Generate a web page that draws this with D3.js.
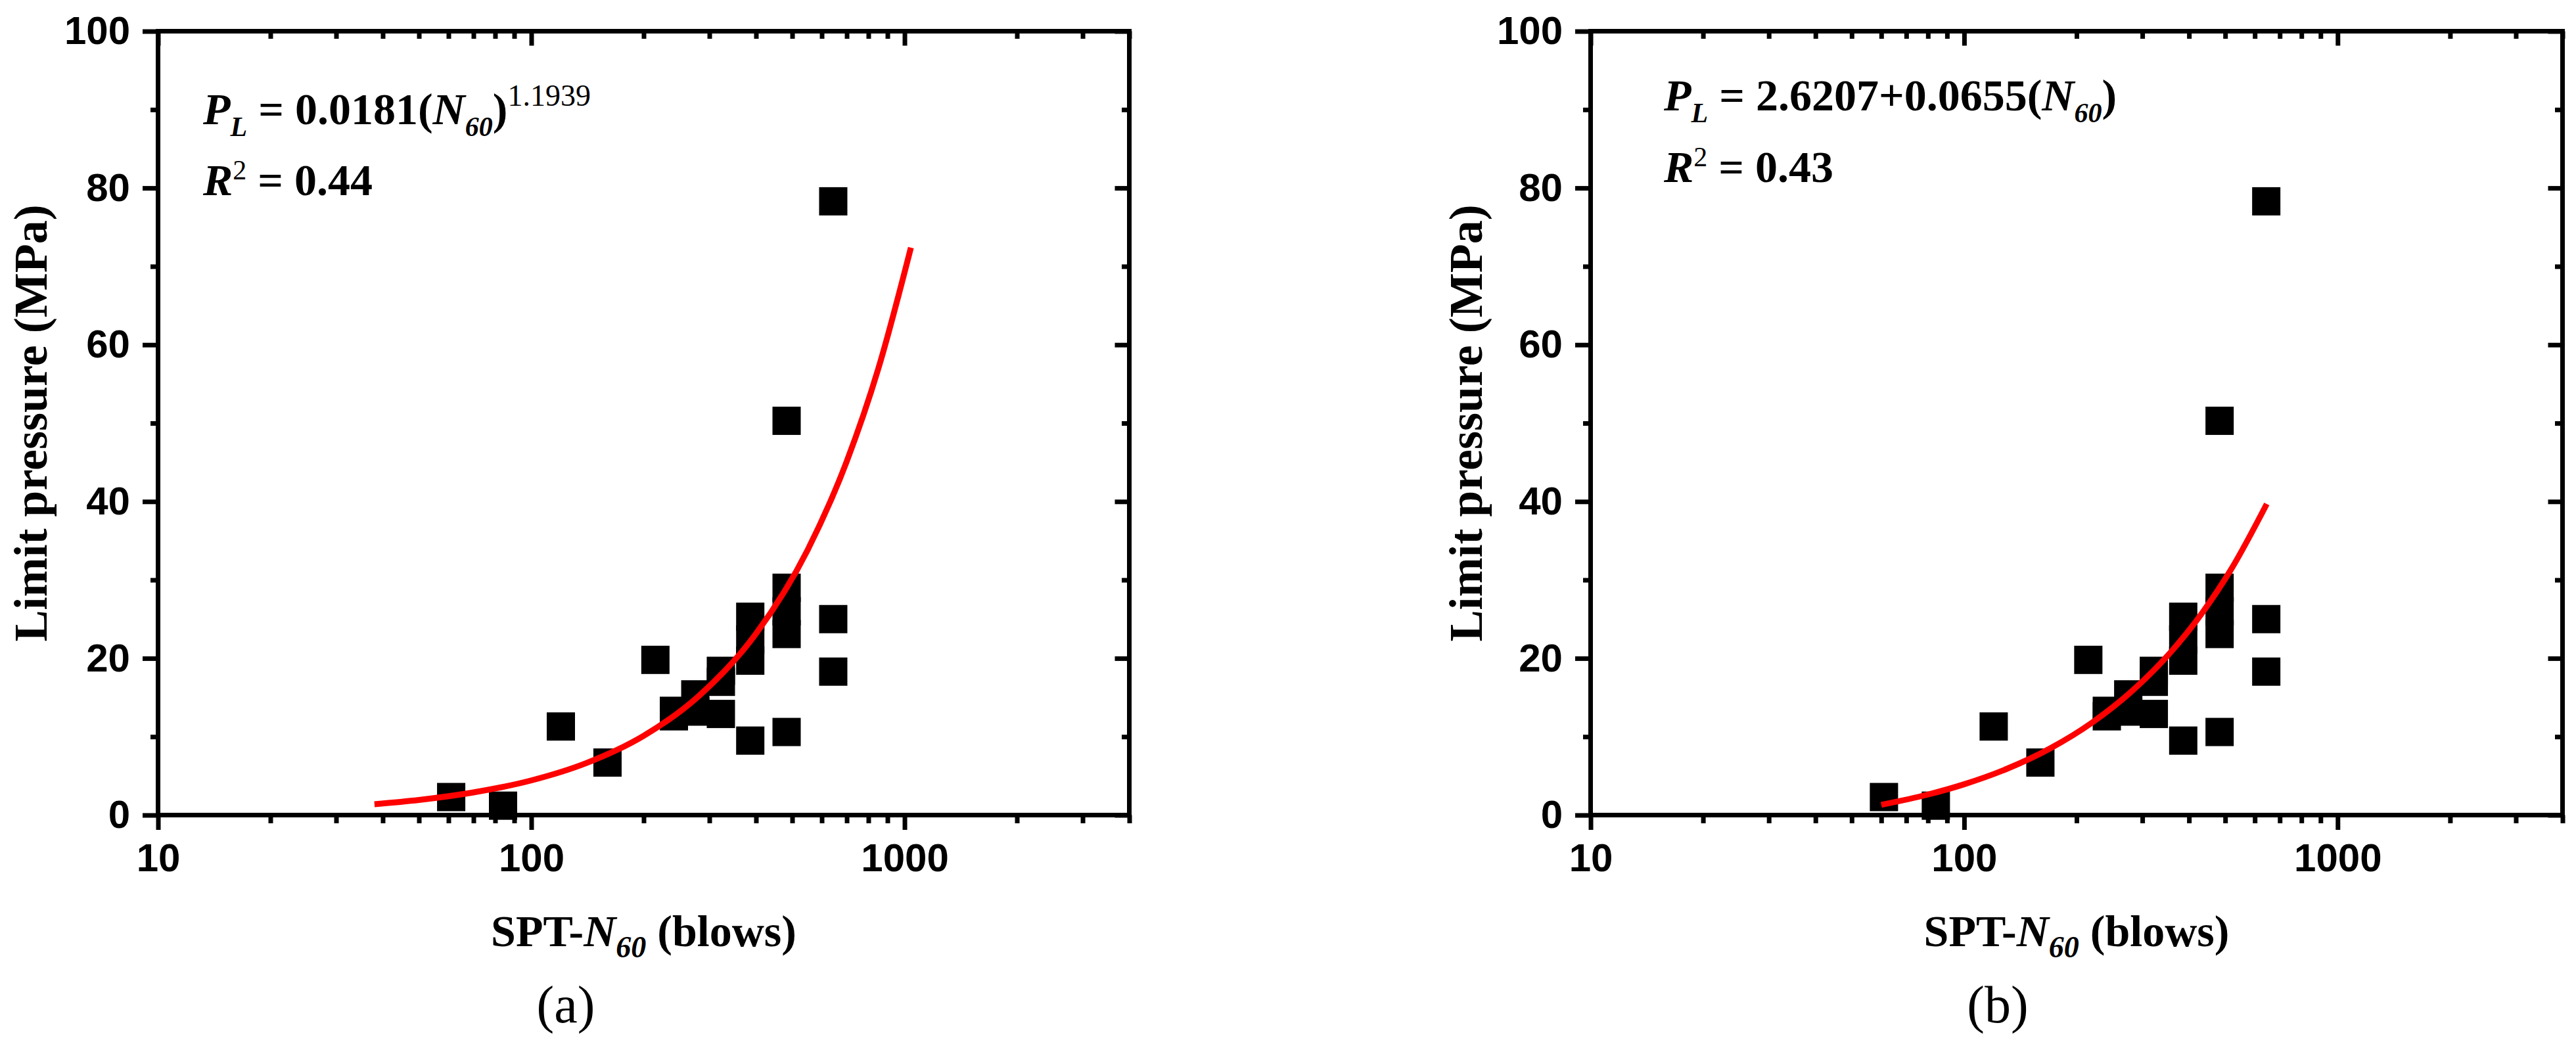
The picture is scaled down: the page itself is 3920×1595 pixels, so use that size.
<!DOCTYPE html>
<html><head><meta charset="utf-8">
<script src="https://cdn.jsdelivr.net/npm/d3@7"></script>
<style>body{margin:0;background:#fff} svg{display:block}</style>
</head><body>
<svg id="chart" width="3920" height="1595"></svg>
<script>
// ---- data ----
const sptN60 = [61, 84, 120, 160, 215, 241, 241, 275, 275, 322, 322, 322, 386, 386, 386, 386, 483, 483, 483, 483, 483, 644, 644, 644];
const limitPressure = [2.3, 1.2, 11.3, 6.7, 19.8, 13.3, 12.6, 15.4, 13.2, 18.4, 17.0, 12.9, 25.3, 22.4, 19.7, 9.5, 29.0, 26.0, 23.1, 50.3, 10.6, 78.3, 25.0, 18.3];
const fitA_N = [38, 50, 70, 100, 140, 200, 280, 400, 550, 700, 850, 1040];
const fitA_PL = [1.39, 1.93, 2.89, 4.42, 6.61, 10.11, 15.12, 23.14, 33.83, 45.13, 56.91, 72.39];
const fitB_N = [60, 80, 100, 130, 170, 220, 280, 350, 430, 520, 646];
const fitB_PL = [1.31, 2.62, 3.93, 5.89, 8.51, 11.79, 15.72, 20.30, 25.54, 31.44, 39.69];
const xMajorTicks = [10, 100, 1000];
const xMinorTicks = [20, 30, 40, 50, 60, 70, 80, 90, 200, 300, 400, 500, 600, 700, 800, 900, 2000, 3000, 4000];
const yMajorTicks = [0, 20, 40, 60, 80, 100];
const yMinorTicks = [10, 30, 50, 70, 90];
const xDomain = [10, 4000];
const yDomain = [0, 100];

const svg = d3.select("#chart");
svg.append("rect").attr("width", 3920).attr("height", 1595).attr("fill", "#fff");

const SERIF = "'Times New Roman', 'Liberation Serif', serif";
const SANS = "Arial, 'Liberation Sans', sans-serif";
const plotTop = 47.5, plotBottom = 1240.5;

const panels = [
  {left: 240.5, right: 1718.5, fitN: fitA_N, fitPL: fitA_PL, eqX: 309, eqY1: 189, eqY2: 297,
   eq: "a", r2: "0.44", label: "(a)", labelX: 861, yTitleX: 71},
  {left: 2420.5, right: 3899.5, fitN: fitB_N, fitPL: fitB_PL, eqX: 2532, eqY1: 168, eqY2: 277,
   eq: "b", r2: "0.43", label: "(b)", labelX: 3040, yTitleX: 2255}
];

function styleAxis(g) {
  g.select(".domain").remove();
  g.selectAll(".tick line").attr("stroke", "#000").attr("stroke-width", 7);
  g.selectAll("text").attr("fill", "#000");
  g.attr("font-family", SANS).attr("font-size", 60).attr("font-weight", "bold");
}

panels.forEach(p => {
  const x = d3.scaleLog().domain(xDomain).range([p.left, p.right]);
  const y = d3.scaleLinear().domain(yDomain).range([plotBottom, plotTop]);
  const g = svg.append("g");

  // bottom axis
  g.append("g").attr("transform", `translate(0,${plotBottom})`)
    .call(d3.axisBottom(x).tickValues(xMajorTicks).tickFormat(d3.format("d")).tickSize(22.5).tickPadding(20.4))
    .call(styleAxis);
  g.append("g").attr("transform", `translate(0,${plotBottom})`)
    .call(d3.axisBottom(x).tickValues(xMinorTicks).tickFormat("").tickSize(12.5))
    .call(styleAxis);
  // top axis (inward ticks)
  g.append("g").attr("transform", `translate(0,${plotTop})`)
    .call(d3.axisTop(x).tickValues(xMajorTicks).tickFormat("").tickSize(-22))
    .call(styleAxis);
  g.append("g").attr("transform", `translate(0,${plotTop})`)
    .call(d3.axisTop(x).tickValues(xMinorTicks).tickFormat("").tickSize(-11.5))
    .call(styleAxis);
  // left axis
  g.append("g").attr("transform", `translate(${p.left},0)`)
    .call(d3.axisLeft(y).tickValues(yMajorTicks).tickFormat(d3.format("d")).tickSize(23.5).tickPadding(19))
    .call(styleAxis);
  g.append("g").attr("transform", `translate(${p.left},0)`)
    .call(d3.axisLeft(y).tickValues(yMinorTicks).tickFormat("").tickSize(11.5))
    .call(styleAxis);
  // right axis (inward ticks)
  g.append("g").attr("transform", `translate(${p.right},0)`)
    .call(d3.axisRight(y).tickValues(yMajorTicks).tickFormat("").tickSize(-22))
    .call(styleAxis);
  g.append("g").attr("transform", `translate(${p.right},0)`)
    .call(d3.axisRight(y).tickValues(yMinorTicks).tickFormat("").tickSize(-11.5))
    .call(styleAxis);

  // frame
  g.append("rect").attr("x", p.left).attr("y", plotTop)
    .attr("width", p.right - p.left).attr("height", plotBottom - plotTop)
    .attr("fill", "none").attr("stroke", "#000").attr("stroke-width", 7);

  // points
  const s = 43;
  g.append("g").selectAll("rect").data(sptN60.map((n, i) => [n, limitPressure[i]]))
    .join("rect")
    .attr("x", d => x(d[0]) - s / 2).attr("y", d => y(d[1]) - s / 2)
    .attr("width", s).attr("height", s).attr("fill", "#000");

  // fit curve
  const line = d3.line().x(d => x(d[0])).y(d => y(d[1])).curve(d3.curveMonotoneX);
  g.append("path").datum(p.fitN.map((n, i) => [n, p.fitPL[i]]))
    .attr("d", line).attr("fill", "none").attr("stroke", "#ff0000").attr("stroke-width", 9);

  // equation
  const t1 = g.append("text").attr("x", p.eqX).attr("y", p.eqY1)
    .attr("font-family", SERIF).attr("font-weight", "bold").attr("font-size", 68).attr("fill", "#000");
  t1.append("tspan").attr("font-style", "italic").text("P");
  t1.append("tspan").attr("font-style", "italic").attr("font-size", 42).attr("dy", 18).text("L");
  if (p.eq === "a") {
    t1.append("tspan").attr("dy", -18).text(" = 0.0181(");
    t1.append("tspan").attr("font-style", "italic").text("N");
    t1.append("tspan").attr("font-style", "italic").attr("font-size", 42).attr("dy", 18).text("60");
    t1.append("tspan").attr("dy", -18).text(")");
    t1.append("tspan").attr("font-weight", "normal").attr("font-size", 46).attr("dy", -28).text("1.1939");
  } else {
    t1.append("tspan").attr("dy", -18).text(" = 2.6207+0.0655(");
    t1.append("tspan").attr("font-style", "italic").text("N");
    t1.append("tspan").attr("font-style", "italic").attr("font-size", 42).attr("dy", 18).text("60");
    t1.append("tspan").attr("dy", -18).text(")");
  }
  const t2 = g.append("text").attr("x", p.eqX).attr("y", p.eqY2)
    .attr("font-family", SERIF).attr("font-weight", "bold").attr("font-size", 68).attr("fill", "#000");
  t2.append("tspan").attr("font-style", "italic").text("R");
  t2.append("tspan").attr("font-weight", "normal").attr("font-size", 42).attr("dy", -24).text("2");
  t2.append("tspan").attr("dy", 24).text(" = " + p.r2);

  // y title
  g.append("text").attr("transform", `translate(${p.yTitleX},${(plotTop + plotBottom) / 2}) rotate(-90)`)
    .attr("text-anchor", "middle").attr("font-family", SERIF).attr("font-weight", "bold")
    .attr("font-size", 72).attr("fill", "#000").text("Limit pressure (MPa)");

  // x title
  const xt = g.append("text").attr("x", (p.left + p.right) / 2).attr("y", 1440)
    .attr("text-anchor", "middle").attr("font-family", SERIF).attr("font-weight", "bold")
    .attr("font-size", 68).attr("fill", "#000");
  xt.append("tspan").text("SPT-");
  xt.append("tspan").attr("font-style", "italic").text("N");
  xt.append("tspan").attr("font-style", "italic").attr("font-size", 46).attr("dy", 17).text("60");
  xt.append("tspan").attr("dy", -17).text(" (blows)");

  // panel label
  g.append("text").attr("x", p.labelX).attr("y", 1556).attr("text-anchor", "middle")
    .attr("font-family", SERIF).attr("font-size", 80).attr("fill", "#000").text(p.label);
});
</script>
</body></html>
